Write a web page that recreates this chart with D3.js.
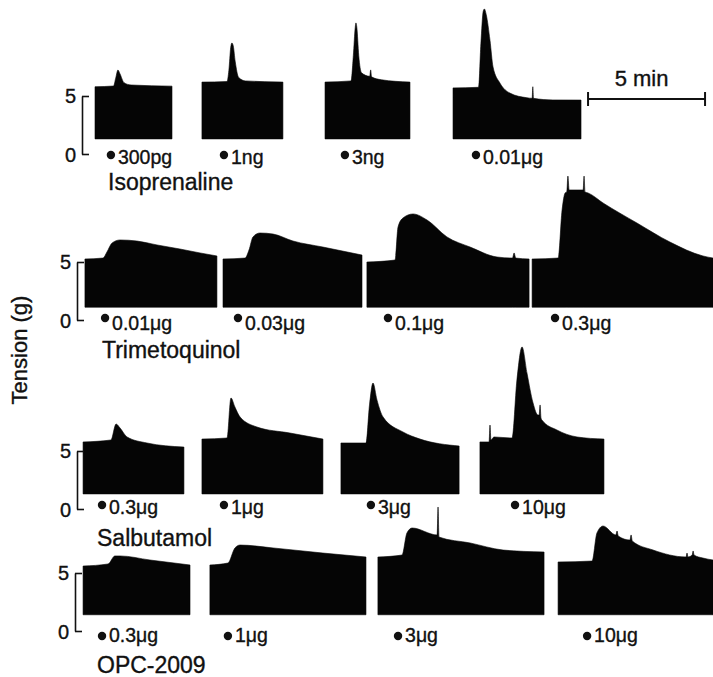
<!DOCTYPE html>
<html>
<head>
<meta charset="utf-8">
<script src="https://cdn.jsdelivr.net/npm/d3@7"></script>
<style>
  body { margin: 0; background: #fff; }
  svg { display: block; font-family: "Liberation Sans", Arial, sans-serif; }
  svg text { stroke: #111; stroke-width: 0.35px; }
</style>
</head>
<body>
<div id="chart"></div>
<script>
// drugs, one row each
const drugNames = ["Isoprenaline", "Trimetoquinol", "Salbutamol", "OPC-2009"];

const doseLabels = [
  ["300pg", "1ng", "3ng", "0.01μg"],
  ["0.01μg", "0.03μg", "0.1μg", "0.3μg"],
  ["0.3μg", "1μg", "3μg", "10μg"],
  ["0.3μg", "1μg", "3μg", "10μg"],
];

// injection time (min) for each dose
const doseTimes = [
  [4.74, 9.57, 14.74, 20.34],
  [4.49, 10.17, 16.58, 23.72],
  [4.36, 9.57, 15.85, 22.01],
  [4.36, 9.74, 17.01, 25.09],
];

// lower edge of the oscillation (g)
const troughTension = [1.3, 1.1, 1.3, 1.4];

// upper envelope of each recording: [time (min), tension (g)]
const isoprenaline = [
  [[4.06, 5.8], [4.85, 5.86], [4.95, 6.6], [5.04, 7.24], [5.13, 6.9], [5.3, 6.15], [5.6, 5.95], [7.35, 5.85]],
  [[8.63, 6.2], [9.7, 6.25], [9.78, 7.2], [9.86, 9.2], [9.91, 9.57], [9.97, 9.3], [10.05, 8.0], [10.2, 6.6], [10.5, 6.3], [12.09, 6.2]],
  [[13.89, 6.2], [15.0, 6.3], [15.1, 8.5], [15.18, 10.9], [15.21, 11.3], [15.25, 10.9], [15.33, 8.5], [15.45, 7.0], [15.8, 6.7], [15.84, 7.25], [15.88, 6.65], [16.3, 6.4], [17.52, 6.2]],
  [[19.36, 5.7], [20.45, 5.75], [20.55, 9.5], [20.65, 12.3], [20.7, 12.5], [20.78, 12.0], [20.94, 9.8], [21.07, 7.5], [21.37, 6.1], [21.79, 5.25], [22.52, 4.85], [22.74, 4.8], [22.77, 5.8], [22.8, 4.8], [23.63, 4.66], [24.83, 4.65]],
];

const trimetoquinol = [
  [[3.63, 5.26], [4.4, 5.34], [4.57, 5.86], [4.79, 6.64], [5.13, 6.9], [5.85, 6.81], [6.71, 6.47], [7.69, 6.12], [8.55, 5.78], [9.27, 5.52]],
  [[9.53, 5.26], [10.47, 5.34], [10.64, 6.03], [10.81, 7.16], [11.11, 7.5], [11.67, 7.41], [12.52, 6.81], [13.8, 6.29], [15.47, 5.6]],
  [[15.68, 5.0], [16.88, 5.17], [17.01, 8.02], [17.22, 8.79], [17.65, 9.14], [18.25, 8.62], [19.1, 7.16], [20.09, 6.29], [21.24, 5.43], [21.9, 5.34], [21.97, 5.78], [22.04, 5.34], [22.61, 5.26]],
  [[22.74, 5.26], [23.85, 5.34], [24.02, 9.48], [24.15, 10.95], [24.22, 11.03], [24.27, 12.41], [24.32, 11.21], [24.66, 11.21], [24.92, 11.21], [24.96, 12.41], [25.0, 11.03], [25.13, 10.95], [25.77, 10.09], [27.22, 8.36], [28.63, 6.72], [30.04, 5.52], [30.47, 5.34]],
];

const salbutamol = [
  [[3.55, 5.78], [4.74, 5.95], [4.96, 7.33], [5.13, 6.98], [5.43, 6.21], [6.28, 5.69], [7.86, 5.34]],
  [[8.63, 6.03], [9.7, 6.12], [9.87, 9.57], [10.04, 8.79], [10.26, 7.93], [10.98, 7.07], [12.39, 6.55], [13.8, 6.03]],
  [[14.57, 5.69], [15.64, 5.69], [15.79, 8.97], [15.94, 10.86], [16.11, 9.4], [16.37, 7.93], [17.22, 6.64], [17.95, 6.03], [19.62, 5.43]],
  [[20.51, 5.78], [20.9, 5.78], [20.94, 7.24], [20.98, 5.95], [21.11, 6.21], [21.88, 6.12], [22.09, 11.12], [22.31, 13.97], [22.52, 11.72], [22.78, 9.14], [22.99, 8.1], [23.04, 8.1], [23.08, 8.97], [23.12, 7.84], [23.16, 7.67], [23.8, 6.81], [24.66, 6.21], [25.81, 6.03]],
];

const opc2009 = [
  [[3.55, 5.6], [4.62, 5.78], [4.91, 6.47], [5.13, 6.47], [6.41, 6.12], [8.12, 5.69]],
  [[8.97, 5.69], [9.74, 5.86], [10.04, 7.16], [10.26, 7.41], [11.67, 7.16], [13.8, 6.72], [15.64, 6.38]],
  [[16.15, 6.38], [17.18, 6.55], [17.39, 8.45], [17.61, 8.88], [18.68, 8.28], [18.72, 10.69], [18.76, 8.1], [20.09, 7.59], [21.5, 6.98], [23.25, 6.81]],
  [[23.85, 5.95], [25.3, 6.03], [25.51, 8.45], [25.77, 9.05], [26.32, 8.28], [26.37, 8.62], [26.42, 8.19], [26.92, 7.84], [26.97, 8.28], [27.02, 7.76], [27.91, 6.98], [29.32, 6.38], [29.36, 6.72], [29.4, 6.38], [29.58, 6.55], [29.62, 6.9], [29.66, 6.55], [30.04, 6.29], [30.47, 6.12]],
];

const traces = [isoprenaline, trimetoquinol, salbutamol, opc2009];

const tensionTicks = [0, 5];
const scaleBarStart = 25.13; // min
const scaleBarMinutes = 5;
const scaleBarLevel = 4.74; // g, on the first row

// page layout
const width = 713;
const height = 677;
const rowLayout = [
  { y0: 154, axisX: 82, nameX: 108, nameY: 190, bulletY: 155, labelY: 164 },
  { y0: 320, axisX: 77, nameX: 102, nameY: 358, bulletY: 318, labelY: 330 },
  { y0: 509, axisX: 77, nameX: 97, nameY: 546, bulletY: 505, labelY: 514 },
  { y0: 631, axisX: 75, nameX: 97, nameY: 673, bulletY: 636, labelY: 642 },
];
const fiveGramPx = 58;

const svg = d3
  .select("#chart")
  .append("svg")
  .attr("width", width)
  .attr("height", height)
  .style("background-color", "#fff");

const x = d3.scaleLinear().domain([0, 30.47]).range([0, width]);

rowLayout.forEach((row, i) => {
  const y = d3.scaleLinear().domain([0, 5]).range([row.y0, row.y0 - fiveGramPx]);
  const g = svg.append("g").attr("class", "row");

  const area = d3
    .area()
    .curve(d3.curveMonotoneX)
    .x((d) => x(d[0]))
    .y0(y(troughTension[i]))
    .y1((d) => y(d[1]));

  g.selectAll("path.trace")
    .data(traces[i])
    .enter()
    .append("path")
    .attr("class", "trace")
    .attr("d", area)
    .attr("fill", "#050505")
    .attr("stroke", "#050505")
    .attr("stroke-width", 0.6)
    .attr("stroke-linejoin", "round");

  // bracket-style tension axis
  const axis = g
    .append("g")
    .attr("transform", `translate(${row.axisX},0)`)
    .call(
      d3.axisRight(y).tickValues(tensionTicks).tickSize(7).tickSizeOuter(0).tickFormat("")
    );
  axis.selectAll("path, line").attr("stroke", "#111").attr("stroke-width", 1.6);

  g.selectAll("text.tick-label")
    .data(tensionTicks)
    .enter()
    .append("text")
    .attr("class", "tick-label")
    .attr("x", row.axisX - 6)
    .attr("y", (d) => y(d) + (d === 0 ? 8 : 7))
    .attr("text-anchor", "end")
    .attr("font-size", 20)
    .attr("fill", "#111")
    .text((d) => d);

  // dose markers
  const doses = doseTimes[i].map((t, k) => ({ t, label: doseLabels[i][k] }));

  g.selectAll("circle.dose")
    .data(doses)
    .enter()
    .append("circle")
    .attr("class", "dose")
    .attr("cx", (d) => x(d.t))
    .attr("cy", row.bulletY)
    .attr("r", 4.2)
    .attr("fill", "#111");

  g.selectAll("text.dose")
    .data(doses)
    .enter()
    .append("text")
    .attr("class", "dose")
    .attr("x", (d) => x(d.t) + 7)
    .attr("y", row.labelY)
    .attr("font-size", 19.5)
    .attr("fill", "#111")
    .text((d) => d.label);

  g.append("text")
    .attr("x", row.nameX)
    .attr("y", row.nameY)
    .attr("font-size", 23)
    .attr("fill", "#111")
    .text(drugNames[i]);
});

// 5 min time bar on the first row
const yTop = d3.scaleLinear().domain([0, 5]).range([rowLayout[0].y0, rowLayout[0].y0 - fiveGramPx]);
const barY = yTop(scaleBarLevel);
const barX1 = x(scaleBarStart);
const barX2 = x(scaleBarStart + scaleBarMinutes);

const bar = svg.append("g").attr("stroke", "#111").attr("stroke-width", 2);
bar.append("line").attr("x1", barX1).attr("x2", barX2).attr("y1", barY).attr("y2", barY);
[barX1, barX2].forEach((bx) => {
  bar.append("line").attr("x1", bx).attr("x2", bx).attr("y1", barY - 7).attr("y2", barY + 7);
});

svg
  .append("text")
  .attr("x", (barX1 + barX2) / 2 - 5)
  .attr("y", barY - 13)
  .attr("text-anchor", "middle")
  .attr("font-size", 22)
  .attr("fill", "#111")
  .text(`${scaleBarMinutes} min`);

svg
  .append("text")
  .attr("transform", "translate(27,350) rotate(-90)")
  .attr("text-anchor", "middle")
  .attr("font-size", 22)
  .attr("fill", "#111")
  .text("Tension (g)");
</script>
</body>
</html>
